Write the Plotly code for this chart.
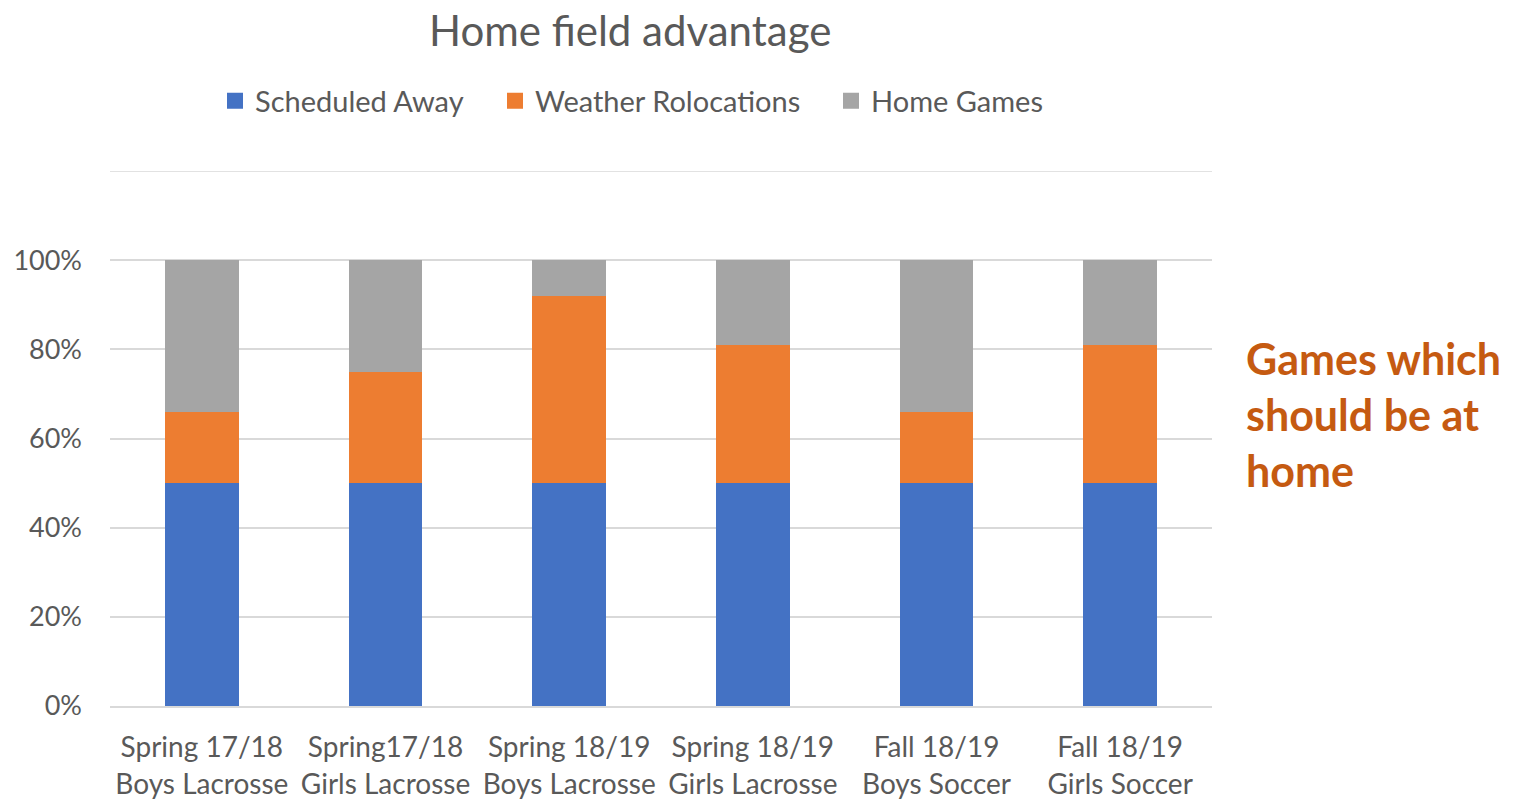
import plotly.graph_objects as go

categories = ["Spring 17/18<br>Boys Lacrosse", "Spring17/18<br>Girls Lacrosse",
              "Spring 18/19<br>Boys Lacrosse", "Spring 18/19<br>Girls Lacrosse",
              "Fall 18/19<br>Boys Soccer", "Fall 18/19<br>Girls Soccer"]
series_names = ["Scheduled Away", "Weather Rolocations", "Home Games"]
scheduled_away = [50, 50, 50, 50, 50, 50]
weather_relocations = [16, 25, 42, 31, 16, 31]
home_games = [34, 25, 8, 19, 34, 19]
tick_vals = [0, 20, 40, 60, 80, 100, 120]
tick_text = ["0%", "20%", "40%", "60%", "80%", "100%", ""]

FONT = "Lato, Open Sans, sans-serif"
GRAY = "#595959"
COLORS = ["#4472C4", "#ED7D31", "#A5A5A5"]
OFF = 0  # page body margin removed via post_script
W, H = 1517 - OFF, 799 - OFF

fig = go.Figure()
for name, vals, col in zip(series_names, [scheduled_away, weather_relocations, home_games], COLORS):
    fig.add_trace(go.Bar(name=name, x=categories, y=vals, marker_color=col,
                         marker_line_width=0, showlegend=False))

legend_ids = ["legend", "legend2", "legend3"]
for name, col, lid in zip(series_names, COLORS, legend_ids):
    fig.add_trace(go.Scatter(name=name, x=[None], y=[None], mode="markers",
                             marker=dict(symbol="square", size=16, color=col, line_width=0),
                             legend=lid, showlegend=True, hoverinfo="skip"))


def leg(text_px):
    return dict(orientation="h", xref="container", yref="container",
                x=(text_px - OFF - 41) / W, y=1 - (101 - OFF) / H,
                xanchor="left", yanchor="middle", itemsizing="trace",
                font=dict(size=29, color=GRAY, family=FONT), bgcolor="rgba(0,0,0,0)")


fig.update_layout(
    barmode="stack",
    bargap=0.6,
    width=W, height=H,
    margin=dict(l=110 - OFF, r=W - (110 - OFF) - 1102, t=171 - OFF,
                b=H - (171 - OFF) - 535, autoexpand=False),
    paper_bgcolor="white", plot_bgcolor="white",
    font=dict(family=FONT, color=GRAY, size=28),
    showlegend=True,
    legend=leg(256),
    legend2=leg(536),
    legend3=leg(872),
    annotations=[
        dict(text="Home field advantage", xref="paper", yref="paper", x=(630 - 110) / 1102,
             y=1 + (171 - 30) / 535, xanchor="center", yanchor="middle", showarrow=False,
             font=dict(size=42, color=GRAY, family=FONT)),
        dict(text="<b>Games which<br>should be at<br>home</b>", xref="paper", yref="paper",
             x=(1244 - 110) / 1102, y=(706 - 414) / 535, xanchor="left", yanchor="middle",
             align="left", showarrow=False,
             font=dict(size=43, color="#C55A11", family=FONT)),
    ],
    shapes=[dict(type="line", xref="paper", yref="y", x0=0, x1=1, y0=120, y1=120,
                 line=dict(color="#d9d9d9", width=1.5), layer="below")],
    xaxis=dict(showgrid=False, showline=True, linecolor="#d9d9d9", linewidth=1.5,
               ticks="", ticklabelstandoff=16, tickfont=dict(size=28, color=GRAY)),
    yaxis=dict(range=[0, 120], tickvals=tick_vals, ticktext=tick_text,
               showgrid=True, gridcolor="#d9d9d9", gridwidth=1.5, zeroline=False,
               showline=False, ticks="", ticklabelstandoff=27,
               tickfont=dict(size=27, color=GRAY)),
)
fig.write_html("out.html", config={"displayModeBar": False},
               post_script="document.body.style.margin='0';document.body.style.overflow='hidden';")
